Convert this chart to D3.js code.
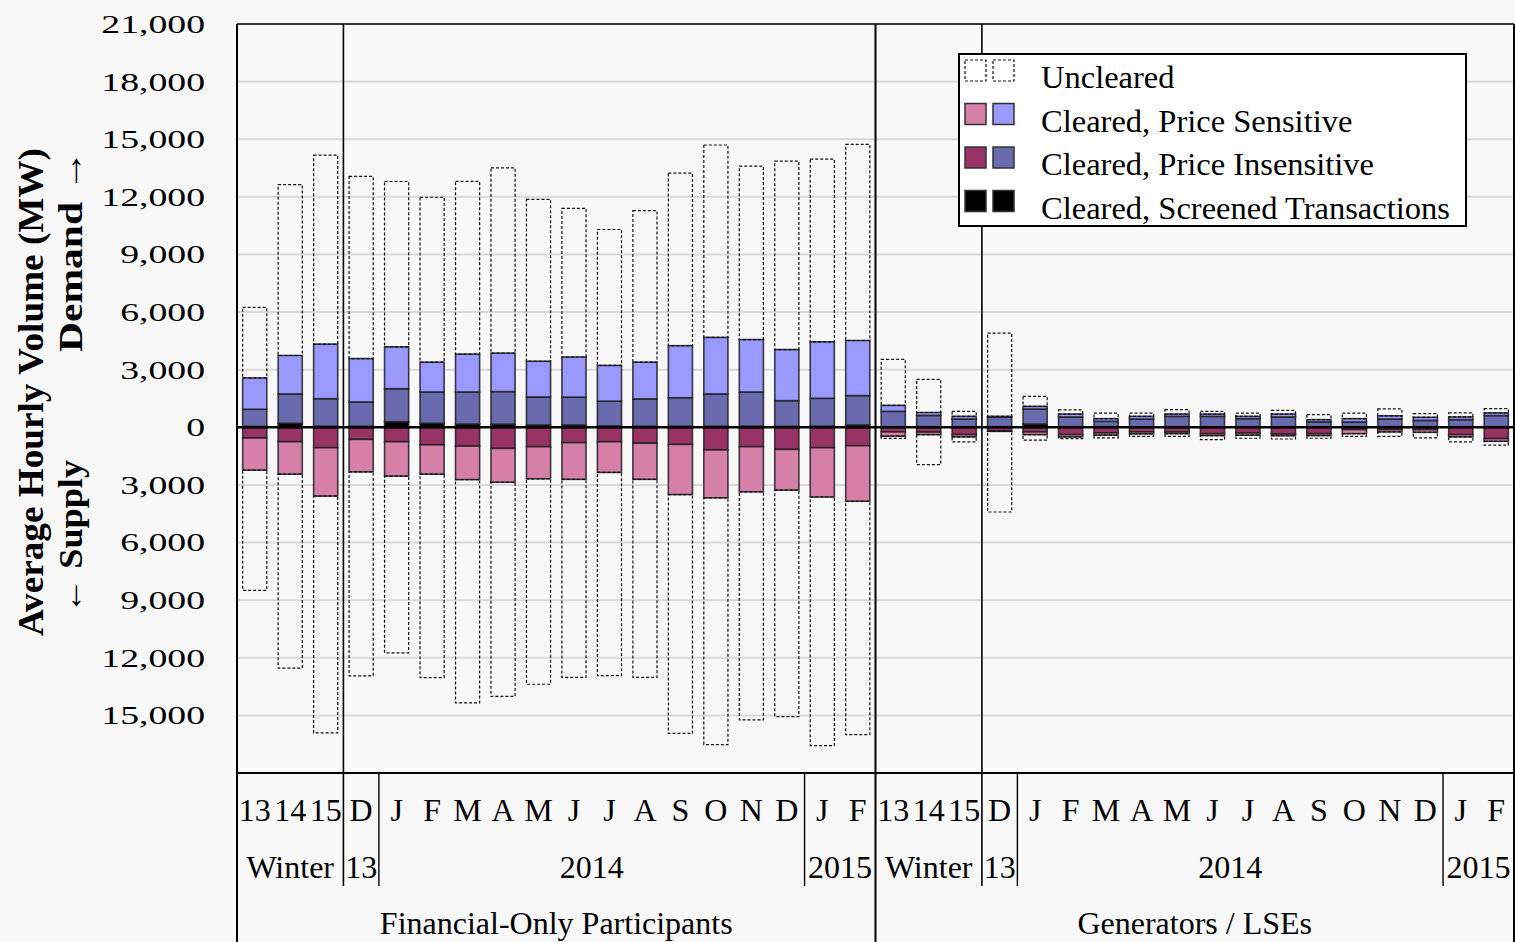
<!DOCTYPE html>
<html>
<head>
<meta charset="utf-8">
<script src="https://cdn.jsdelivr.net/npm/d3@7"></script>
<style>
  html, body { margin: 0; padding: 0; background: #f8f8f8; }
  text { font-family: "Liberation Serif", "Times New Roman", serif; fill: #000; }
</style>
</head>
<body>
<svg id="chart" width="1515" height="942"></svg>
<script>
// ---- categories and labels ----
const groupNames = ["Financial-Only Participants", "Generators / LSEs"];
const monthLabels = ["13", "14", "15", "D", "J", "F", "M", "A", "M", "J", "J", "A", "S", "O", "N", "D", "J", "F"];
const periodNames = ["Winter", "13", "2014", "2015"];
const periodSpans = [3, 1, 12, 2];
const yTickValues = [21000, 18000, 15000, 12000, 9000, 6000, 3000, 0, -3000, -6000, -9000, -12000, -15000];

// ---- average hourly volume (MW), 18 financial-only periods then 18 generator/LSE periods ----
const demandScreened = [50, 210, 60, 60, 290, 210, 170, 160, 120, 120, 70, 60, 60, 60, 60, 50, 60, 120,
  30, 30, 30, 30, 170, 30, 30, 30, 30, 30, 30, 30, 30, 30, 30, 30, 30, 30];
const demandInsensitive = [890, 1530, 1430, 1260, 1720, 1630, 1670, 1700, 1460, 1450, 1290, 1420, 1480, 1680, 1780, 1340, 1450, 1530,
  800, 590, 400, 500, 780, 510, 280, 400, 540, 540, 420, 510, 250, 250, 400, 330, 370, 580];
const demandSensitive = [1630, 2000, 2840, 2260, 2180, 1550, 1970, 2000, 1860, 2090, 1860, 1910, 2710, 2940, 2730, 2660, 2940, 2870,
  310, 150, 140, 40, 140, 150, 140, 140, 120, 120, 120, 150, 120, 170, 170, 160, 140, 140];
const demandUncleared = [3670, 8900, 9840, 9490, 8610, 8590, 9000, 9650, 8430, 7740, 7080, 7890, 8990, 10020, 9030, 9810, 9510, 10210,
  2400, 1730, 260, 4330, 520, 220, 290, 170, 230, 140, 170, 190, 260, 290, 360, 190, 210, 220];

const supplyScreened = [30, 30, 30, 30, 30, 30, 30, 30, 30, 30, 30, 30, 30, 30, 30, 30, 30, 30,
  20, 20, 20, 20, 20, 20, 20, 20, 20, 20, 20, 20, 20, 20, 20, 20, 20, 20];
const supplyInsensitive = [530, 720, 1030, 600, 720, 880, 950, 1070, 980, 770, 720, 800, 860, 1150, 980, 1120, 1030, 930,
  220, 230, 360, 180, 220, 360, 270, 220, 220, 310, 270, 330, 310, 100, 100, 100, 360, 570];
const supplySensitive = [1670, 1690, 2520, 1690, 1790, 1530, 1740, 1760, 1670, 1910, 1600, 1880, 2610, 2490, 2350, 2120, 2570, 2890,
  220, 130, 120, 10, 140, 120, 120, 100, 90, 100, 120, 90, 100, 210, 120, 140, 120, 140];
const supplyUncleared = [6260, 10100, 12330, 10620, 9200, 10590, 11630, 11150, 10700, 10310, 10580, 10310, 12440, 12850, 11870, 11790, 12940, 12150,
  120, 1560, 260, 4200, 290, 90, 140, 130, 140, 210, 160, 170, 140, 140, 230, 290, 260, 200];

// ---- table for the stack: demand positive, supply negative ----
const categories = groupNames.flatMap((g, gi) => monthLabels.map((m, mi) => ({ key: gi + "-" + mi, label: m, group: gi })));
const rows = categories.map((c, i) => ({
  key: c.key,
  dScr: demandScreened[i], dIns: demandInsensitive[i], dSens: demandSensitive[i], dUnc: demandUncleared[i],
  sScr: -supplyScreened[i], sIns: -supplyInsensitive[i], sSens: -supplySensitive[i], sUnc: -supplyUncleared[i]
}));
const keys = ["dScr", "dIns", "dSens", "dUnc", "sScr", "sIns", "sSens", "sUnc"];
const series = d3.stack().keys(keys).offset(d3.stackOffsetDiverging)(rows);

const fills = {
  dScr: "#000000", dIns: "#6a6aae", dSens: "#9999ff", dUnc: "none",
  sScr: "#000000", sIns: "#993366", sSens: "#d680a9", sUnc: "none"
};

const svg = d3.select("#chart");
const W = 1515, H = 942;
const plotLeft = 237, plotRight = 1514, plotTop = 24, plotBottom = 773;

svg.append("rect").attr("width", W).attr("height", H).attr("fill", "#f8f8f8");

const x = d3.scaleBand().domain(categories.map(c => c.key))
  .range([plotLeft, plotRight]).paddingInner(0.32).paddingOuter(0.16);
const y = d3.scaleLinear().domain([-18000, 21000]).range([plotBottom, plotTop]);
const edge = k => plotLeft + k * x.step();

// gridlines
svg.append("g").selectAll("line").data(yTickValues.filter(v => v !== 0).concat([-18000]))
  .join("line")
  .attr("x1", plotLeft).attr("x2", plotRight)
  .attr("y1", d => y(d)).attr("y2", d => y(d))
  .attr("stroke", "#d9d9d9").attr("stroke-width", 2);

// bars
const barG = svg.append("g");
series.forEach(s => {
  const dashed = s.key === "dUnc" || s.key === "sUnc";
  barG.append("g").selectAll("rect").data(s).join("rect")
    .attr("x", d => x(d.data.key))
    .attr("width", x.bandwidth())
    .attr("y", d => y(Math.max(d[0], d[1])))
    .attr("height", d => Math.abs(y(d[0]) - y(d[1])))
    .attr("fill", fills[s.key])
    .attr("stroke", dashed ? "#111" : "#1e1e1e")
    .attr("stroke-opacity", dashed ? 1 : 0.85)
    .attr("stroke-width", dashed ? 1.2 : 1.6)
    .attr("stroke-dasharray", dashed ? "3,2" : null);
});

// zero line
svg.append("line").attr("x1", plotLeft).attr("x2", plotRight)
  .attr("y1", y(0)).attr("y2", y(0)).attr("stroke", "#000").attr("stroke-width", 2.5);

// frame
svg.append("line").attr("x1", plotLeft).attr("x2", plotRight).attr("y1", plotTop).attr("y2", plotTop)
  .attr("stroke", "#000").attr("stroke-width", 1.5);
svg.append("line").attr("x1", plotLeft).attr("x2", plotRight).attr("y1", plotBottom).attr("y2", plotBottom)
  .attr("stroke", "#000").attr("stroke-width", 2);
svg.append("line").attr("x1", plotRight).attr("x2", plotRight).attr("y1", plotTop).attr("y2", plotBottom)
  .attr("stroke", "#000").attr("stroke-width", 1.5);

// vertical separators: group edges run to the bottom, period edges span the plot or label rows
const perGroup = monthLabels.length;
const periodEdges = [];
let acc = 0;
periodSpans.forEach(s => { acc += s; periodEdges.push(acc); });
const sepG = svg.append("g");
[0, 1, 2].forEach(gi => {
  const k = gi * perGroup;
  sepG.append("line").attr("x1", edge(k)).attr("x2", edge(k)).attr("y1", plotTop).attr("y2", H)
    .attr("stroke", "#000").attr("stroke-width", 2);
});
[0, 1].forEach(gi => {
  periodEdges.slice(0, -1).forEach((pe, pi) => {
    const k = gi * perGroup + pe;
    const inPlot = pi === 0;
    sepG.append("line").attr("x1", edge(k)).attr("x2", edge(k))
      .attr("y1", inPlot ? plotTop : plotBottom).attr("y2", 886)
      .attr("stroke", "#000").attr("stroke-width", inPlot ? 1.6 : 1.4);
  });
});

// y tick labels (supply side shown as magnitudes)
const fmt = d3.format(",");
svg.append("g").selectAll("text").data(yTickValues).join("text")
  .attr("transform", d => `translate(205,${y(d)}) scale(1.48,1)`)
  .attr("dy", "0.35em")
  .attr("text-anchor", "end")
  .style("font-size", "25.5px")
  .text(d => fmt(Math.abs(d)));

// y axis title
svg.append("text")
  .attr("transform", "translate(43,392) rotate(-90)")
  .attr("text-anchor", "middle")
  .attr("textLength", 488).attr("lengthAdjust", "spacingAndGlyphs")
  .style("font-size", "35px").style("font-weight", "bold")
  .text("Average Hourly Volume (MW)");
svg.append("text")
  .attr("transform", "translate(82,150) rotate(-90)")
  .attr("text-anchor", "end")
  .attr("textLength", 202).attr("lengthAdjust", "spacingAndGlyphs")
  .style("font-size", "34px").style("font-weight", "bold")
  .text("Demand \u2192");
svg.append("text")
  .attr("transform", "translate(82,614) rotate(-90)")
  .attr("text-anchor", "start")
  .attr("textLength", 154).attr("lengthAdjust", "spacingAndGlyphs")
  .style("font-size", "34px").style("font-weight", "bold")
  .text("\u2190 Supply");

// category labels: month row, period row, group row
const labG = svg.append("g").style("font-size", "32px").attr("text-anchor", "middle");
labG.selectAll("text.m").data(categories).join("text").attr("class", "m")
  .attr("x", d => x(d.key) + x.bandwidth() / 2).attr("y", 821)
  .text(d => d.label);
[0, 1].forEach(gi => {
  let start = 0;
  periodNames.forEach((p, pi) => {
    const a = edge(gi * perGroup + start), b = edge(gi * perGroup + start + periodSpans[pi]);
    labG.append("text").attr("x", (a + b) / 2).attr("y", 878).text(p);
    start += periodSpans[pi];
  });
  labG.append("text").attr("x", (edge(gi * perGroup) + edge((gi + 1) * perGroup)) / 2).attr("y", 934)
    .text(groupNames[gi]);
});

// legend
const legendItems = [
  { label: "Uncleared", left: "none", right: "none", dashed: true },
  { label: "Cleared, Price Sensitive", left: fills.sSens, right: fills.dSens },
  { label: "Cleared, Price Insensitive", left: fills.sIns, right: fills.dIns },
  { label: "Cleared, Screened Transactions", left: "#000", right: "#000" }
];
const lg = svg.append("g");
lg.append("rect").attr("x", 959).attr("y", 54).attr("width", 507).attr("height", 172)
  .attr("fill", "#ffffff").attr("stroke", "#000").attr("stroke-width", 2);
legendItems.forEach((it, i) => {
  const top = 60 + i * 43.5;
  [[965, it.left], [993, it.right]].forEach(([sx, f]) => {
    lg.append("rect").attr("x", sx).attr("y", top).attr("width", 21).attr("height", 21)
      .attr("fill", f)
      .attr("stroke", it.dashed ? "#111" : "#333")
      .attr("stroke-width", it.dashed ? 1.2 : 1.5)
      .attr("stroke-dasharray", it.dashed ? "3,2" : null);
  });
  lg.append("text").attr("x", 1041).attr("y", top + 28)
    .style("font-size", "32.5px").text(it.label);
});
</script>
</body>
</html>
